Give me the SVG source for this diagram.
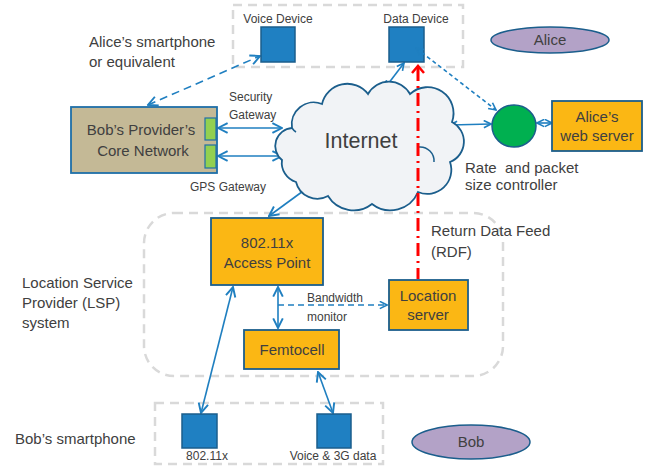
<svg xmlns="http://www.w3.org/2000/svg" width="648" height="470" viewBox="0 0 648 470">
<defs>
<marker id="ah" markerUnits="userSpaceOnUse" markerWidth="12" markerHeight="12" viewBox="0 0 10 10" refX="9" refY="5" orient="auto-start-reverse">
<path d="M1,1 L9,5 L1,9" fill="none" stroke="#1f7fc0" stroke-width="1.6"/>
</marker>
<marker id="ahs" markerUnits="userSpaceOnUse" markerWidth="9" markerHeight="9" viewBox="0 0 10 10" refX="9" refY="5" orient="auto-start-reverse">
<path d="M1,1 L9,5 L1,9" fill="none" stroke="#1f7fc0" stroke-width="1.8"/>
</marker>
</defs>
<style>
text{font-family:"Liberation Sans",Arial,sans-serif;fill:#404040}
.t14{font-size:15px}
.t12{font-size:12px}
.grp{fill:none;stroke:#d9d9d9;stroke-width:2.5;stroke-dasharray:9,6}
.sq{fill:#1f80c2;stroke:#1b5e8c;stroke-width:1.5}
.box{fill:#fbb714;stroke:#1b5e8c;stroke-width:1.8}
.c{fill:none;stroke:#1f7fc0;stroke-width:1.6}
</style>
<rect width="648" height="470" fill="#ffffff"/>
<g id="groups">
<rect class="grp" x="233" y="5" width="230" height="62"/>
<rect class="grp" x="144" y="213" width="359" height="163" rx="30"/>
<rect class="grp" x="155" y="403" width="228" height="61"/>
</g>
<g id="connectors">
<line class="c" x1="148" y1="105" x2="260" y2="56" stroke-dasharray="8,5" stroke-width="2.2" marker-start="url(#ah)" marker-end="url(#ah)"/>
<line class="c" x1="218" y1="128" x2="282" y2="128" marker-start="url(#ah)" marker-end="url(#ah)"/>
<line class="c" x1="218" y1="156" x2="282" y2="156" marker-start="url(#ah)" marker-end="url(#ah)"/>
<line class="c" x1="404" y1="63" x2="385" y2="88" marker-start="url(#ahs)" marker-end="url(#ahs)"/>
<line class="c" x1="491" y1="124" x2="450" y2="125" marker-start="url(#ahs)" marker-end="url(#ahs)"/>
<line class="c" x1="537" y1="123" x2="552" y2="123" marker-start="url(#ahs)" marker-end="url(#ahs)"/>
<line class="c" x1="310" y1="186" x2="269" y2="216" marker-start="url(#ah)" marker-end="url(#ah)"/>
<line class="c" x1="278" y1="287" x2="278" y2="328" marker-start="url(#ah)" marker-end="url(#ah)"/>
<line class="c" x1="278" y1="305" x2="387" y2="305" stroke-dasharray="6,4" marker-end="url(#ahs)"/>
<line class="c" x1="233" y1="287" x2="201" y2="413" marker-start="url(#ah)" marker-end="url(#ah)"/>
<line class="c" x1="318" y1="372" x2="333" y2="413" marker-start="url(#ah)" marker-end="url(#ah)"/>
</g>
<g id="cloud">
<path d="M292,128 A22,22 0 0 1 322,104 A26,26 0 0 1 368,94 A24,24 0 0 1 410,94 A26,26 0 0 1 452,122 A22,22 0 0 1 450,162 A24,24 0 0 1 418,192 A30,30 0 0 1 372,204 A30,30 0 0 1 328,196 A22,22 0 0 1 296,182 A20,20 0 0 1 282,160 A18,18 0 0 1 292,128 Z" fill="#f1f3f6" stroke="#1b5e8c" stroke-width="1.8"/>
<path d="M419,147 A14,14 0 0 1 434,162" fill="none" stroke="#1b5e8c" stroke-width="1.5"/>
<path d="M292,128 A14,14 0 0 0 296,132" fill="none" stroke="#1b5e8c" stroke-width="1.5"/>
<text x="361" y="148" font-size="21.5" text-anchor="middle">Internet</text>
</g>
<g id="alice-devices">
<text class="t12" x="278" y="23" text-anchor="middle">Voice Device</text>
<rect class="sq" x="261" y="27" width="34" height="35"/>
<text class="t12" x="416" y="23" text-anchor="middle">Data Device</text>
<rect class="sq" x="389" y="27" width="35" height="35"/>
</g>
<g id="dash-data-controller">
<line class="c" x1="416" y1="48" x2="496" y2="110" stroke-dasharray="4,3" stroke-width="1.4" marker-start="url(#ahs)" marker-end="url(#ahs)"/>
</g>
<g id="alice">
<ellipse cx="550" cy="40" rx="59" ry="13" fill="#b3a2c7" stroke="#1b5e8c" stroke-width="1.5"/>
<text class="t14" x="550" y="45" text-anchor="middle">Alice</text>
</g>
<g id="alice-label">
<text class="t14" x="89" y="47">Alice’s smartphone</text>
<text class="t14" x="89" y="67">or equivalent</text>
</g>
<g id="core-network">
<rect x="71" y="107" width="146" height="66" fill="#c4b996" stroke="#1f6fa8" stroke-width="1.8"/>
<rect x="205" y="118" width="11" height="22" fill="#92d050" stroke="#1f6fa8" stroke-width="1.2"/>
<rect x="205" y="145" width="11" height="23" fill="#92d050" stroke="#1f6fa8" stroke-width="1.2"/>
<text class="t14" x="141" y="135" text-anchor="middle">Bob’s Provider’s</text>
<text class="t14" x="143" y="156" text-anchor="middle">Core Network</text>
</g>
<g id="gateway-labels">
<text class="t12" x="229" y="101">Security</text>
<text class="t12" x="229" y="119">Gateway</text>
<text class="t12" x="190" y="191">GPS Gateway</text>
</g>
<g id="controller">
<ellipse cx="514" cy="126" rx="22" ry="21" fill="#00b050" stroke="#1b5e8c" stroke-width="1.5"/>
<text class="t14" x="465" y="173" style="white-space:pre">Rate  and packet</text>
<text class="t14" x="465" y="190">size controller</text>
</g>
<g id="web-server">
<rect class="box" x="552" y="101" width="90" height="50"/>
<text class="t14" x="597" y="122" text-anchor="middle">Alice’s</text>
<text class="t14" x="597" y="141" text-anchor="middle">web server</text>
</g>
<g id="rdf">
<line x1="418" y1="68" x2="418" y2="279" stroke="#ff0000" stroke-width="3" stroke-dasharray="13,5,2,5"/>
<path d="M412,73 L418,66 L424,73" fill="none" stroke="#ff0000" stroke-width="2.5"/>
<text class="t14" x="431" y="236">Return Data Feed</text>
<text class="t14" x="431" y="257">(RDF)</text>
</g>
<g id="access-point">
<rect class="box" x="211" y="218" width="112" height="67"/>
<text class="t14" x="267" y="248" text-anchor="middle">802.11x</text>
<text class="t14" x="267" y="268" text-anchor="middle">Access Point</text>
</g>
<g id="femtocell">
<rect class="box" x="244" y="330" width="95" height="39"/>
<text class="t14" x="292" y="355" text-anchor="middle">Femtocell</text>
</g>
<g id="bw-label">
<text class="t12" x="307" y="302">Bandwidth</text>
<text class="t12" x="307" y="321">monitor</text>
</g>
<g id="location-server">
<rect class="box" x="389" y="280" width="79" height="50"/>
<text class="t14" x="428" y="301" text-anchor="middle">Location</text>
<text class="t14" x="428" y="320" text-anchor="middle">server</text>
</g>
<g id="lsp-label">
<text class="t14" x="22" y="288">Location Service</text>
<text class="t14" x="22" y="308">Provider (LSP)</text>
<text class="t14" x="22" y="328">system</text>
</g>
<g id="bob-devices">
<rect class="sq" x="182" y="414" width="35" height="34"/>
<text class="t12" x="207" y="460" text-anchor="middle">802.11x</text>
<rect class="sq" x="317" y="414" width="34" height="34"/>
<text class="t12" x="333" y="460" text-anchor="middle">Voice &amp; 3G data</text>
</g>
<g id="bob-label">
<text class="t14" x="15" y="444">Bob’s smartphone</text>
</g>
<g id="bob">
<ellipse cx="471" cy="442" rx="59" ry="17" fill="#b3a2c7" stroke="#1b5e8c" stroke-width="1.5"/>
<text class="t14" x="471" y="447" text-anchor="middle">Bob</text>
</g>
</svg>
